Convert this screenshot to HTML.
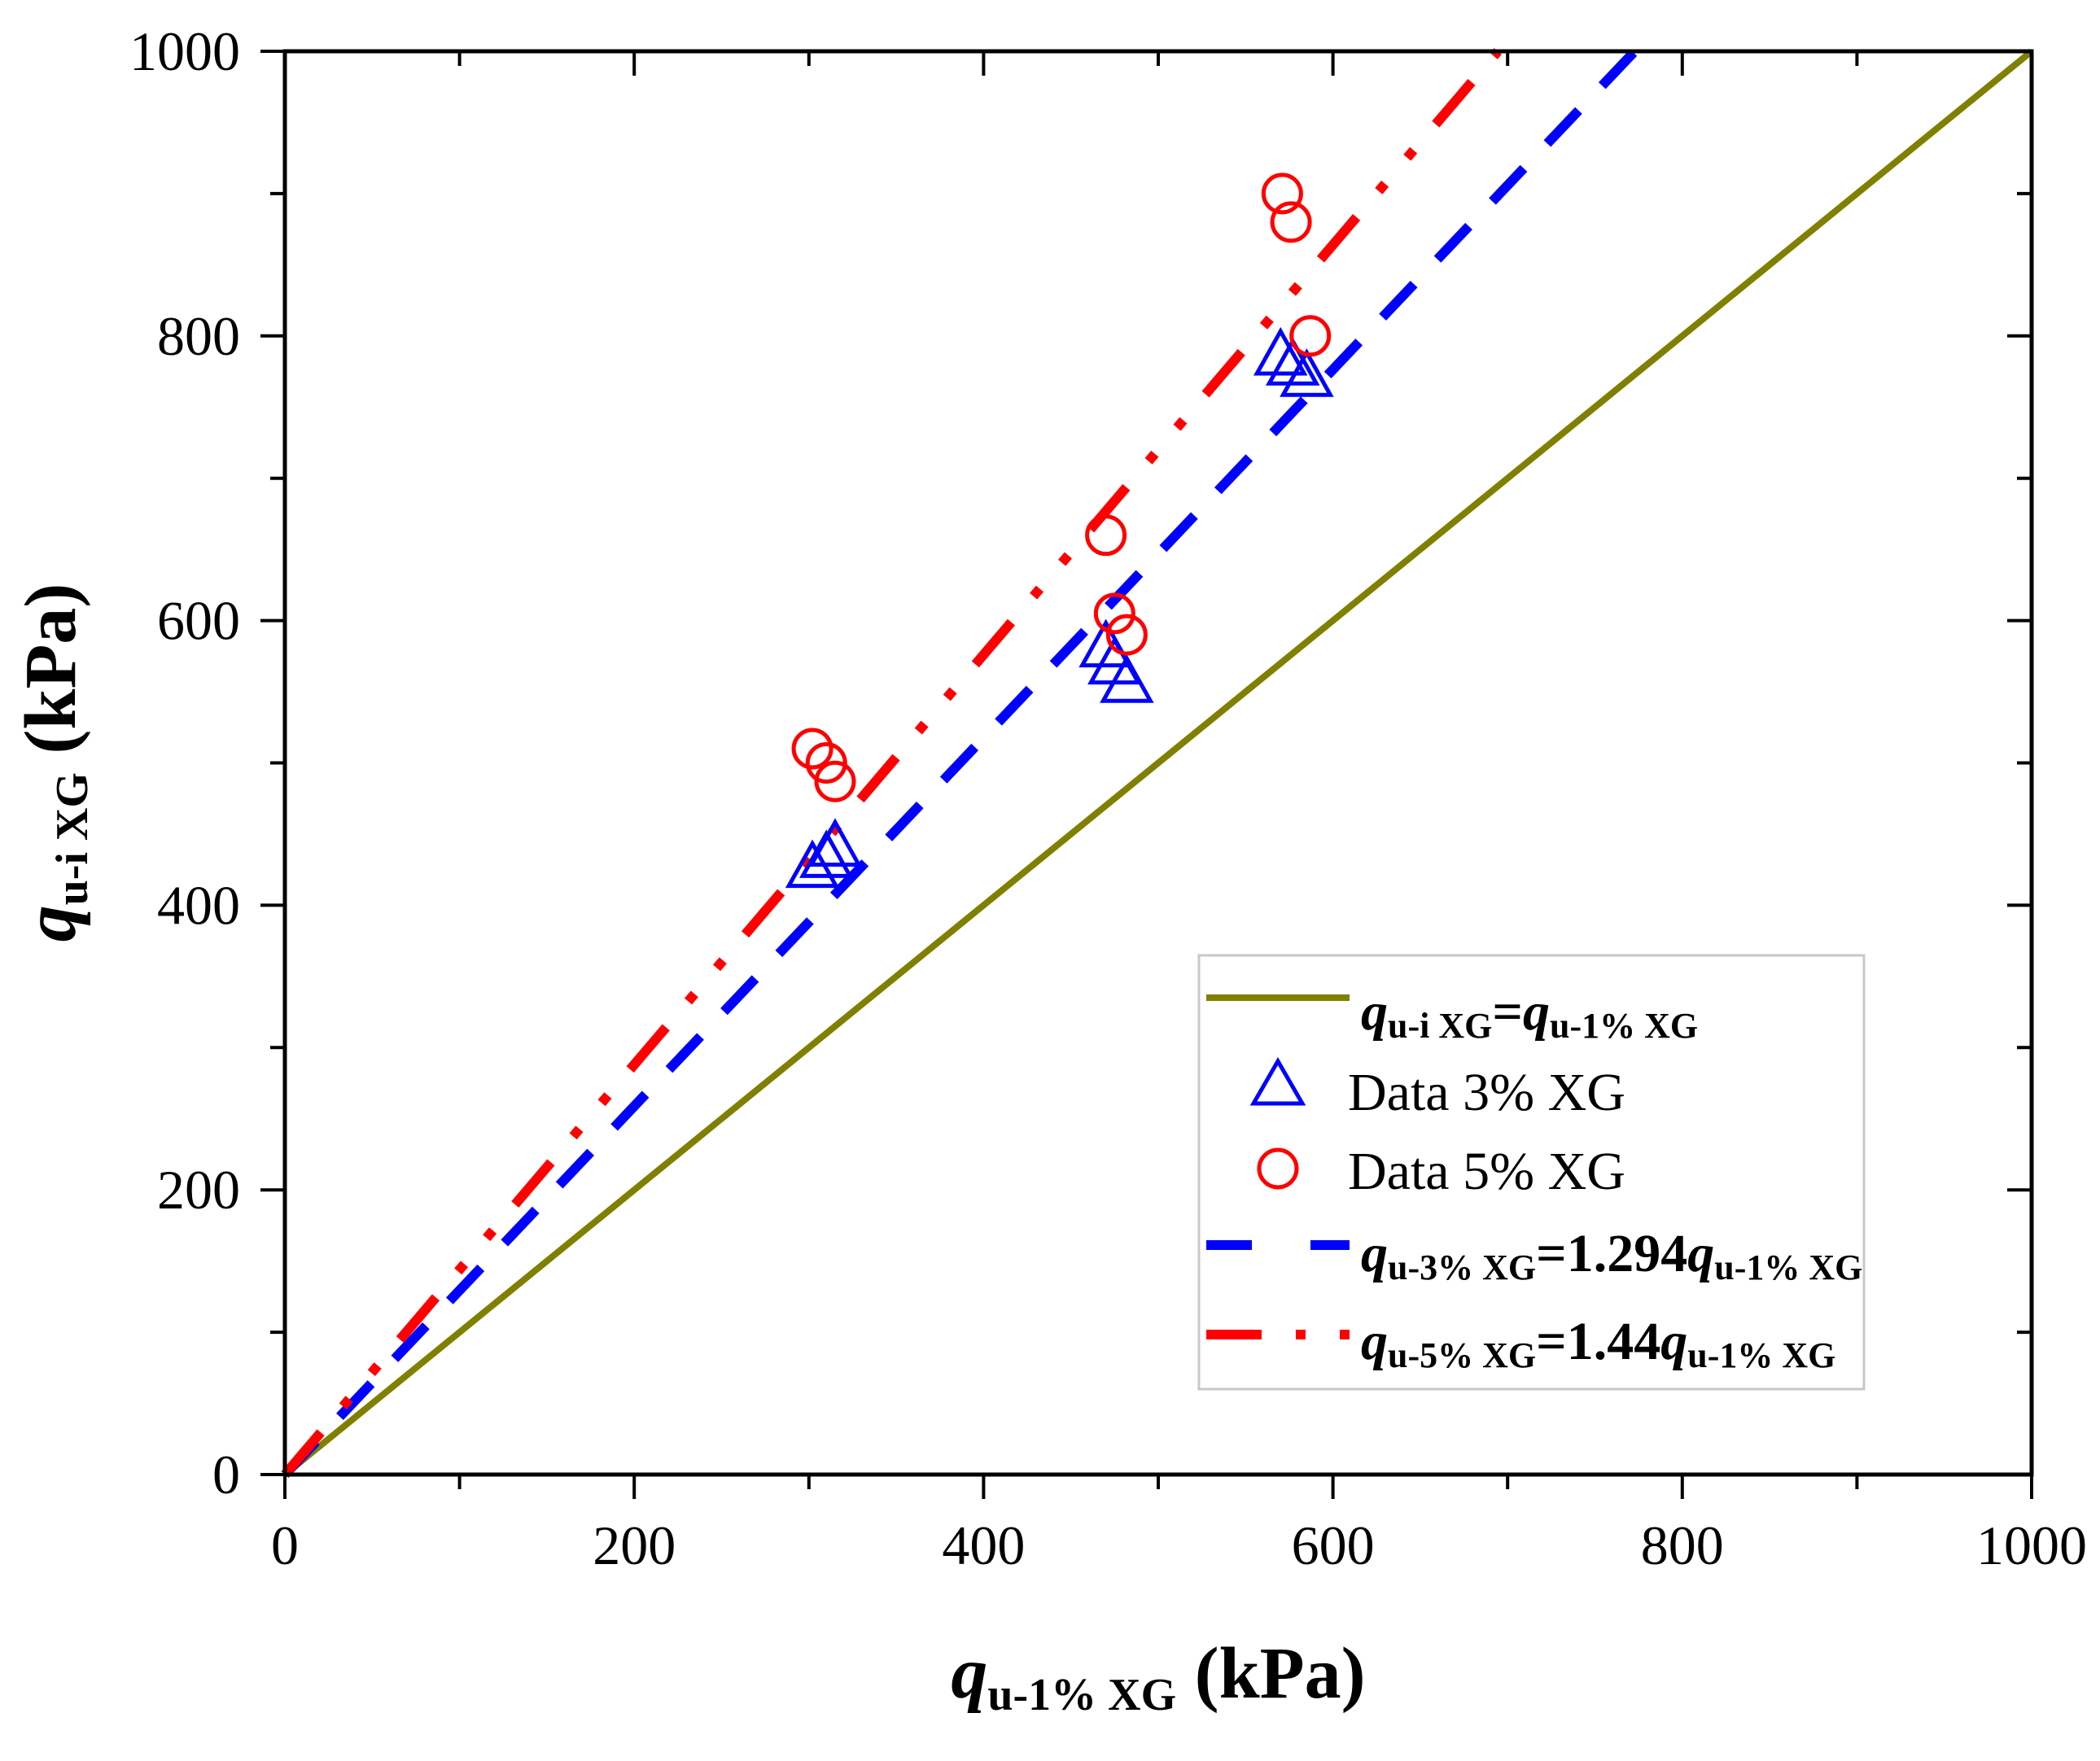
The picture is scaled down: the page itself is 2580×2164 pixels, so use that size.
<!DOCTYPE html>
<html><head><meta charset="utf-8"><style>
html,body{margin:0;padding:0;background:#fff}
svg{display:block;font-family:"Liberation Serif",serif}
</style></head><body>
<svg id="chart" width="2580" height="2164" viewBox="0 0 2580 2164" xmlns="http://www.w3.org/2000/svg">
<g id="series"></g>
<rect x="350" y="63" width="2146" height="1749" fill="none" stroke="#000" stroke-width="5"/>
<g id="ticks"></g>
<text x="1423" y="2086" text-anchor="middle" font-size="90" font-weight="bold"><tspan font-style="italic">q</tspan><tspan font-size="56" dy="15">u-1% XG</tspan><tspan dy="-15"> (kPa)</tspan></text>
<text transform="translate(92,937) rotate(-90)" text-anchor="middle" font-size="90" font-weight="bold"><tspan font-style="italic">q</tspan><tspan font-size="56" dy="15">u-i XG</tspan><tspan dy="-15"> (kPa)</tspan></text>
<g>
<rect x="1473" y="1174" width="817" height="533" fill="#fff" stroke="#c8c8c8" stroke-width="3"/>
<line x1="1482" y1="1226" x2="1658" y2="1226" stroke="#808000" stroke-width="8"/>
<text x="1672" y="1265" font-size="66" font-weight="bold"><tspan font-style="italic">q</tspan><tspan font-size="44" dy="10">u-i XG</tspan><tspan dy="-10">=</tspan><tspan font-style="italic">q</tspan><tspan font-size="44" dy="10">u-1% XG</tspan></text>
<polygon points="1570,1304 1540,1356 1600,1356" fill="none" stroke="#0000ff" stroke-width="5"/>
<text x="1656" y="1364" font-size="66">Data 3% XG</text>
<circle cx="1570" cy="1436" r="23" fill="none" stroke="#ff0000" stroke-width="5"/>
<text x="1656" y="1461" font-size="66">Data 5% XG</text>
<line x1="1482" y1="1530" x2="1658" y2="1530" stroke="#0000ff" stroke-width="12" stroke-dasharray="56 72"/>
<text x="1672" y="1562" font-size="66" font-weight="bold"><tspan font-style="italic">q</tspan><tspan font-size="44" dy="10">u-3% XG</tspan><tspan dy="-10">=1.294</tspan><tspan font-style="italic">q</tspan><tspan font-size="44" dy="10">u-1% XG</tspan></text>
<line x1="1482" y1="1640" x2="1658" y2="1640" stroke="#ff0000" stroke-width="12" stroke-dasharray="68 42 12 42 12 42"/>
<text x="1672" y="1670" font-size="66" font-weight="bold"><tspan font-style="italic">q</tspan><tspan font-size="44" dy="10">u-5% XG</tspan><tspan dy="-10">=1.44</tspan><tspan font-style="italic">q</tspan><tspan font-size="44" dy="10">u-1% XG</tspan></text>
</g>
</svg>
<script>
const xTicks=[0,200,400,600,800,1000];
const yTicks=[0,200,400,600,800,1000];
const x3=[302,310,315,470,475,482,570,577,585];
const y3=[425,432,440,580,568,555,785,778,770];
const x5=[302,310,315,470,475,482,571,576,587];
const y5=[510,500,487,660,605,590,900,880,800];
const slopes=[1,1.294,1.44];
const L=350,R=2496,T=63,B=1812;
const sx=v=>L+(v/1000)*(R-L);
const sy=v=>B-(v/1000)*(B-T);
const NS="http://www.w3.org/2000/svg";
function mk(tag,attrs,parent){const e=document.createElementNS(NS,tag);for(const k in attrs)e.setAttribute(k,attrs[k]);parent.appendChild(e);return e;}
const ticks=document.getElementById('ticks');
const ser=document.getElementById('series');
for(let v=0;v<=1000;v+=100){
  const major=v%200===0;const len=major?30:18;
  let t=mk('line',{x1:sx(v),y1:B,x2:sx(v),y2:B+len,stroke:'#000','stroke-width':4},ticks);
  
  
  t=mk('line',{x1:sx(v),y1:T,x2:sx(v),y2:T+len,stroke:'#000','stroke-width':4},ticks);
  
  
  t=mk('line',{x1:L-len,y1:sy(v),x2:L,y2:sy(v),stroke:'#000','stroke-width':4},ticks);
  
  
  t=mk('line',{x1:R-len,y1:sy(v),x2:R,y2:sy(v),stroke:'#000','stroke-width':4},ticks);
  
  
}
xTicks.forEach(v=>{const t=mk('text',{x:sx(v),y:1922,'text-anchor':'middle','font-size':68},ticks);t.textContent=v;
  
  });
yTicks.forEach(v=>{const t=mk('text',{x:295,y:sy(v)+23,'text-anchor':'end','font-size':68},ticks);t.textContent=v;
  
  });
const styles=[{c:'#808000',w:8,d:''},{c:'#0000ff',w:12,d:'56 42'},{c:'#ff0000',w:12,d:'68 42 12 42 12 42'}];
const names=['identity-line','fit-line-3','fit-line-5'];
slopes.forEach((s,i)=>{const xe=Math.min(1000,1000/s);
  const l=mk('line',{x1:sx(0),y1:sy(0),x2:sx(xe),y2:sy(xe*s),stroke:styles[i].c,'stroke-width':styles[i].w},ser);
  if(styles[i].d)l.setAttribute('stroke-dasharray',styles[i].d);
  
  });
x3.forEach((x,i)=>{const cx=sx(x),cy=sy(y3[i]);
  const p=mk('polygon',{points:`${cx},${cy-32} ${cx-29},${cy+20} ${cx+29},${cy+20}`,fill:'none',stroke:'#0000ff','stroke-width':5},ser);
  
  });
x5.forEach((x,i)=>{const c=mk('circle',{cx:sx(x),cy:sy(y5[i]),r:23,fill:'none',stroke:'#ff0000','stroke-width':5},ser);
  
  });
</script>
</body></html>
